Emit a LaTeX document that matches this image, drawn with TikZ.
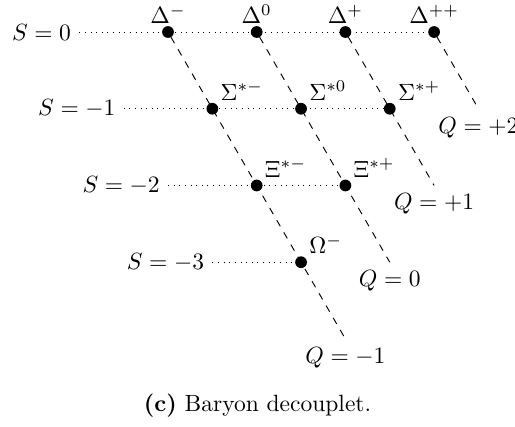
\documentclass[tikz,border=0pt]{standalone}
\usepackage{amsmath}
\usetikzlibrary{positioning}
\tikzset{
  baryon-dot/.style={circle, fill=black, inner sep=0pt, outer sep=0pt, minimum size=5pt},
  strange-line/.style={dotted, line width=0.4pt},
  charge-line/.style={dashed, line width=0.4pt},
  strange-label/.style={anchor=east},
  charge-label/.style={below}
}
\begin{document}
\begin{tikzpicture}[x=1.327cm, y=1.148cm]
  \useasboundingbox (-1.894,0.417) rectangle (3.912,-5.137);

  % Strangeness labels
  \node[strange-label] (s0) at (-1,0) {$S=0$};
  \node[strange-label] (s1) at (-0.5,-1) {$S=-1$};
  \node[strange-label] (s2) at (0,-2) {$S=-2$};
  \node[strange-label] (s3) at (0.5,-3) {$S=-3$};

  % Baryons
  \node[baryon-dot] (dm) at (0,0) {};
  \node[baryon-dot] (dz) at (1,0) {};
  \node[baryon-dot] (dp) at (2,0) {};
  \node[baryon-dot] (dpp) at (3,0) {};
  \node[baryon-dot] (sm) at (0.5,-1) {};
  \node[baryon-dot] (sz) at (1.5,-1) {};
  \node[baryon-dot] (sp) at (2.5,-1) {};
  \node[baryon-dot] (xm) at (1,-2) {};
  \node[baryon-dot] (xp) at (2,-2) {};
  \node[baryon-dot] (om) at (1.5,-3) {};

  \node[above] (ldm) at (dm) {$\Delta^-$};
  \node[above] (ldz) at (dz) {$\Delta^0$};
  \node[above] (ldp) at (dp) {$\Delta^+$};
  \node[above] (ldpp) at (dpp) {$\Delta^{++}$};
  \node[above right] (lsm) at (sm) {$\Sigma^{*-}$};
  \node[above right] (lsz) at (sz) {$\Sigma^{*0}$};
  \node[above right] (lsp) at (sp) {$\Sigma^{*+}$};
  \node[above right] (lxm) at (xm) {$\Xi^{*-}$};
  \node[above right] (lxp) at (xp) {$\Xi^{*+}$};
  \node[above right] (lom) at (om) {$\Omega^-$};

  % Charge line ends
  \coordinate (qm) at (2,-4);
  \coordinate (qz) at (2.5,-3);
  \coordinate (qp) at (3,-2);
  \coordinate (qpp) at (3.5,-1);

  % Rows of equal strangeness
  \draw[strange-line] (s0.east) -- (dpp);
  \draw[strange-line] (s1.east) -- (sp);
  \draw[strange-line] (s2.east) -- (xp);
  \draw[strange-line] (s3.east) -- (om);

  % Lines of equal charge
  \draw[charge-line] (dm) -- (qm);
  \draw[charge-line] (dz) -- (qz);
  \draw[charge-line] (dp) -- (qp);
  \draw[charge-line] (dpp) -- (qpp);

  \node[charge-label] (lqm) at (qm) {$Q=-1$};
  \node[charge-label] (lqz) at (qz) {$Q=0$};
  \node[charge-label] (lqp) at (qp) {$Q=+1$};
  \node[charge-label] (lqpp) at (qpp) {$Q=+2$};

  \node (caption) at (1.009,-4.863) {\textbf{(c)} Baryon decouplet.};
\end{tikzpicture}
\end{document}
